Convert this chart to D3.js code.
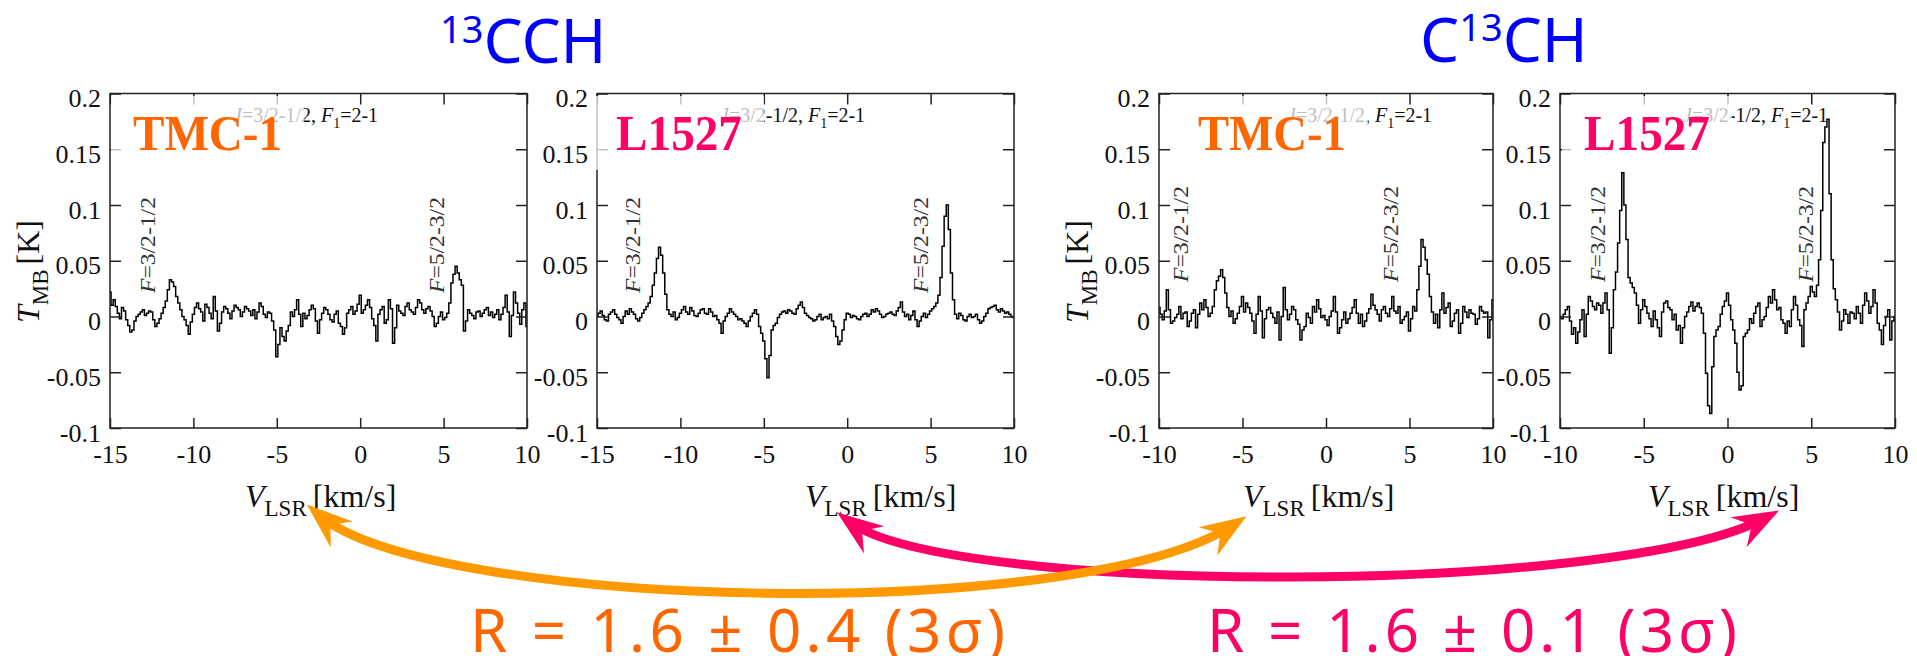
<!DOCTYPE html>
<html lang="en">
<head>
<meta charset="utf-8">
<title>13CCH / C13CH in TMC-1 and L1527</title>
<script src="https://d3js.org/d3.v7.min.js"></script>
<style>
  body { margin: 0; background: #fff; }
  svg { display: block; }
</style>
</head>
<body>
<svg width="1917" height="656"></svg>
<script>
var svg = d3.select("svg");

// channel width of the spectra, km/s
var dv = 0.125;

// T_MB in mK, one value per channel
// 13CCH  TMC-1, from -15 km/s
var cch13Tmc1 = [22,10,15,9,3,-2,8,5,-3,-8,
  -14,-12,-4,0,2,4,6,1,3,5,
  4,-3,-9,-6,-2,3,8,14,24,33,
  31,27,18,12,6,0,-3,-8,-16,-5,
  2,8,12,7,4,-4,11,8,3,-2,
  18,5,-13,-6,4,9,7,3,-2,5,
  10,8,6,0,4,9,7,5,1,6,
  -2,4,12,9,2,-1,4,3,-4,-12,
  -36,-25,-10,-18,-22,-13,-8,4,0,6,
  15,2,-9,3,-2,1,6,10,7,-4,
  -15,-3,3,8,6,2,-3,-5,2,5,
  -6,-9,-16,-10,3,6,9,2,5,11,
  19,3,6,10,15,8,-2,-8,-22,2,
  6,9,-6,-3,15,7,-24,-10,10,5,
  3,1,9,12,6,4,2,8,15,12,
  6,3,7,9,5,0,-9,-6,0,4,
  -3,-1,3,12,30,38,45,39,33,28,
  -13,-4,6,3,1,-2,4,5,0,3,
  6,8,1,4,-1,2,6,-3,2,8,
  19,4,-18,1,22,12,3,-7,6,12,
  -9];
// 13CCH  L1527, from -15 km/s
var cch13L1527 = [0,3,5,1,-3,-4,2,4,6,2,
  -1,-3,-6,0,5,2,7,4,2,-2,
  -4,-1,3,6,9,12,18,28,39,52,
  62,55,39,20,6,2,0,4,-3,-1,
  3,6,9,4,2,8,5,1,0,3,
  6,7,3,2,7,4,0,1,-3,-6,
  -15,-4,0,3,7,4,2,0,-3,-2,
  -4,-6,-9,-4,0,3,6,2,-9,-15,
  -22,-38,-55,-35,-12,-8,-6,-1,2,4,
  5,3,6,5,3,2,7,10,13,8,
  3,1,-1,-2,-4,-3,0,2,-3,-1,
  0,-2,2,-4,-9,-18,-25,-22,-12,-3,
  3,2,-1,1,0,-2,-3,0,2,3,
  0,2,6,4,7,5,2,-1,0,2,
  3,4,2,1,5,8,13,4,0,2,
  -3,1,5,-3,-9,-4,0,3,-1,2,
  5,7,9,12,19,35,63,90,100,78,
  39,15,2,-2,3,1,-3,-4,0,2,
  -1,0,2,-3,-6,-4,0,3,7,8,
  9,10,6,4,7,5,3,4,2,0,
  -1];
// C13CH  TMC-1, from -10 km/s
var c13chTmc1 = [8,2,-3,5,24,6,-6,-4,-1,2,
  9,-2,3,4,-9,-4,3,6,-10,2,
  12,6,15,8,0,3,9,24,32,36,
  42,35,21,8,0,5,-6,-2,3,9,
  18,4,12,8,3,-4,-15,2,18,5,
  -19,-2,6,8,3,-1,-6,4,-21,0,
  26,6,-3,2,9,6,-3,-7,-21,-12,
  -9,3,-1,-6,9,4,15,7,-1,1,
  -3,-8,0,5,18,4,-15,-10,-3,4,
  -6,-2,3,8,15,3,-6,2,-9,-4,
  3,7,20,10,6,2,-4,6,9,3,
  0,7,18,5,3,9,-6,-3,0,4,
  -13,-2,9,5,24,45,69,62,51,38,
  18,4,-6,2,-10,6,21,3,8,12,
  -9,-4,3,6,-15,-6,9,4,-1,6,
  3,2,-7,-2,9,5,3,4,-19,-3,
  15];
// C13CH  L1527, from -10 km/s
var c13chL1527 = [0,-2,2,6,9,-4,-16,-10,-24,-14,
  -3,6,-18,2,18,14,9,6,12,10,
  3,12,21,6,-33,-10,24,40,66,95,
  129,100,69,35,30,26,21,10,-6,6,
  15,9,3,-2,-9,5,-3,-10,-18,4,
  12,14,8,6,-3,2,-12,-8,-24,-10,
  0,4,9,13,5,9,12,8,3,-15,
  -51,-80,-87,-45,-18,-12,-9,2,9,14,
  21,10,-3,-12,-24,-50,-66,-62,-18,-15,
  -12,-2,-6,3,9,12,-9,-3,0,8,
  18,12,24,15,6,8,-3,-6,-15,-4,
  -9,6,18,10,-3,-8,-27,6,12,18,
  27,22,18,28,51,95,156,170,177,110,
  51,25,15,4,-12,-4,6,2,-6,4,
  3,-2,9,3,-6,10,21,14,3,9,
  24,12,-6,-12,-25,-8,0,6,-21,-4,
  0];

var spectra = [cch13Tmc1, cch13L1527, c13chTmc1, c13chL1527];
var vStart = [-15, -15, -10, -10];
var vRange = [[-15, 10], [-15, 10], [-10, 10], [-10, 10]];
var sources = ["TMC-1", "L1527", "TMC-1", "L1527"];
var xTicksWide = [-15, -10, -5, 0, 5, 10];
var xTicksNarrow = [-10, -5, 0, 5, 10];
var yTicks = [-0.1, -0.05, 0, 0.05, 0.1, 0.15, 0.2];
var hfs = ["3/2-1/2", "5/2-3/2"];
var ratios = ["R = 1.6 \u00b1 0.4 (3\u03c3)", "R = 1.6 \u00b1 0.1 (3\u03c3)"];

var orange = "#ff6600", pink = "#ff0066", amber = "#ff9900";
var serif = "'Liberation Serif', 'Times New Roman', serif";
var sans = "'Noto Sans', 'Open Sans', sans-serif";

// layout of the four boxes
var panels = [
  {left: 110, right: 527, nameX: 133, nameW: 149, fx: [155, 444], fy: 293, tlabel: true, vx: 245, col: orange},
  {left: 597, right: 1014, nameX: 616, nameW: 126, fx: [640, 928], fy: 293, tlabel: false, vx: 805, col: pink},
  {left: 1159, right: 1493, nameX: 1198, nameW: 148, fx: [1188, 1398], fy: 282, tlabel: true, vx: 1243, col: orange},
  {left: 1560, right: 1895, nameX: 1584, nameW: 126, fx: [1605, 1813], fy: 282, tlabel: false, vx: 1648, col: pink}
];
var yTop = 93.5, yBot = 428;

var y = d3.scaleLinear().domain([-0.1, 0.2]).range([yBot, yTop]);

var defs = svg.append("defs");

panels.forEach(function(p, k) {
  var x = d3.scaleLinear().domain(vRange[k]).range([p.left, p.right]);
  var xt = vRange[k][0] == -15 ? xTicksWide : xTicksNarrow;
  var g = svg.append("g");

  defs.append("clipPath").attr("id", "clip" + k)
    .append("rect").attr("x", p.left).attr("y", yTop)
    .attr("width", p.right - p.left).attr("height", yBot - yTop);

  // spectrum
  var line = d3.line()
    .x(function(d, i) { return x(vStart[k] + i * dv); })
    .y(function(d) { return y(d / 1000); })
    .curve(d3.curveStep);
  g.append("path")
    .datum(spectra[k])
    .attr("clip-path", "url(#clip" + k + ")")
    .attr("fill", "none")
    .attr("stroke", "#000")
    .attr("stroke-width", 1.5)
    .attr("d", line);

  // axes, ticks pointing inward
  var gb = g.append("g").attr("transform", "translate(0," + yBot + ")")
    .call(d3.axisBottom(x).tickValues(xt).tickSizeInner(-10).tickSizeOuter(0)
      .tickPadding(17).tickFormat(function(d) { return String(d); }));
  var gt = g.append("g").attr("transform", "translate(0," + yTop + ")")
    .call(d3.axisTop(x).tickValues(xt).tickSizeInner(-11).tickSizeOuter(0));
  var gl = g.append("g").attr("transform", "translate(" + p.left + ",0)")
    .call(d3.axisLeft(y).tickValues(yTicks).tickSizeInner(-11).tickSizeOuter(0)
      .tickPadding(9).tickFormat(function(d) { return String(d); }));
  var gr = g.append("g").attr("transform", "translate(" + p.right + ",0)")
    .call(d3.axisRight(y).tickValues(yTicks).tickSizeInner(-11).tickSizeOuter(0));
  gt.selectAll("text").remove();
  gr.selectAll("text").remove();
  [gb, gt, gl, gr].forEach(function(a) {
    a.attr("color", "#222").attr("font-family", serif).attr("font-size", 26);
    a.select(".domain").remove();
    a.selectAll("line").attr("stroke-width", 1.5);
  });
  gl.selectAll("text").attr("dy", "0.5em").attr("fill", "#111");
  gb.selectAll("text").attr("fill", "#111");

  g.append("rect")
    .attr("x", p.left).attr("y", yTop)
    .attr("width", p.right - p.left).attr("height", yBot - yTop)
    .attr("fill", "none").attr("stroke", "#222").attr("stroke-width", 1.5);

  // transition label
  var jt = g.append("text").attr("x", p.left + (k == 2 ? 128 : 123)).attr("y", 122)
    .attr("font-family", serif).attr("font-size", 20).attr("fill", "#111");
  jt.append("tspan").attr("font-style", "italic").text("J");
  jt.append("tspan").text("=3/2-1/2, ");
  jt.append("tspan").attr("font-style", "italic").text("F");
  jt.append("tspan").attr("font-size", 14).attr("dy", 6).text("1");
  jt.append("tspan").attr("dy", -6).text("=2-1");

  // hyperfine component labels
  hfs.forEach(function(h, j) {
    var t = g.append("text")
      .attr("transform", "translate(" + p.fx[j] + "," + p.fy + ") rotate(-90)")
      .attr("font-family", serif).attr("font-size", 21).attr("fill", "#333")
      .attr("textLength", 96).attr("lengthAdjust", "spacingAndGlyphs");
    t.append("tspan").attr("font-style", "italic").text("F");
    t.append("tspan").text("=" + h);
  });

  // veil behind the source name
  g.append("rect")
    .attr("x", p.nameX - 22).attr("y", 96)
    .attr("width", p.nameW + 44).attr("height", 74)
    .attr("fill", "#fff").attr("opacity", 0.72);
  g.append("text")
    .attr("x", p.nameX).attr("y", 150)
    .attr("font-family", serif).attr("font-weight", "bold").attr("font-size", 50)
    .attr("fill", p.col)
    .attr("textLength", p.nameW).attr("lengthAdjust", "spacingAndGlyphs")
    .text(sources[k]);

  // axis titles
  var vt = g.append("text").attr("x", p.vx).attr("y", 507)
    .attr("font-family", serif).attr("font-size", 32).attr("fill", "#111");
  vt.append("tspan").attr("font-style", "italic").text("V");
  vt.append("tspan").attr("font-size", 23).attr("dy", 9).text("LSR");
  vt.append("tspan").attr("dy", -9).attr("dx", 6).text("[km/s]");

  if (p.tlabel) {
    var tt = g.append("text")
      .attr("transform", "translate(" + (p.left - 71) + ",323) rotate(-90)")
      .attr("font-family", serif).attr("font-size", 32).attr("fill", "#111");
    tt.append("tspan").attr("font-style", "italic").text("T");
    tt.append("tspan").attr("font-size", 23).attr("dy", 9).text("MB");
    tt.append("tspan").attr("dy", -9).attr("dx", 5).text("[K]");
  }
});

// molecule titles
var t1 = svg.append("text").attr("x", 440).attr("y", 63)
  .attr("font-family", sans).attr("fill", "#0000ff");
t1.append("tspan").attr("font-size", 38).attr("dy", -20).text("13");
t1.append("tspan").attr("font-size", 62).attr("dy", 20).text("CCH");

var t2 = svg.append("text").attr("x", 1420).attr("y", 62)
  .attr("font-family", sans).attr("fill", "#0000ff");
t2.append("tspan").attr("font-size", 62).text("C");
t2.append("tspan").attr("font-size", 38).attr("dy", -21).text("13");
t2.append("tspan").attr("font-size", 62).attr("dy", 21).text("CH");

// double-headed arrows linking the same source
function head(id, col) {
  defs.append("marker").attr("id", id)
    .attr("viewBox", "-34 -22 54 44")
    .attr("markerWidth", 54).attr("markerHeight", 44)
    .attr("refX", 0).attr("refY", 0)
    .attr("markerUnits", "userSpaceOnUse")
    .attr("orient", "auto-start-reverse")
    .append("path").attr("d", "M16,0L-30,-17L-15,0L-30,17Z").attr("fill", col);
}
head("hp", pink);
head("ho", amber);

svg.append("path")
  .attr("d", "M850,522 C950,596 1620,596 1765,518")
  .attr("fill", "none").attr("stroke", pink).attr("stroke-width", 9)
  .attr("marker-start", "url(#hp)").attr("marker-end", "url(#hp)");
svg.append("path")
  .attr("d", "M319,515 C430,610 1080,625 1233,525")
  .attr("fill", "none").attr("stroke", amber).attr("stroke-width", 9)
  .attr("marker-start", "url(#ho)").attr("marker-end", "url(#ho)");

// isotopic ratios
svg.append("text").attr("x", 470).attr("y", 652)
  .attr("font-family", sans).attr("font-size", 60).attr("fill", orange)
  .attr("textLength", 535).attr("lengthAdjust", "spacing")
  .text(ratios[0]);
svg.append("text").attr("x", 1207).attr("y", 652)
  .attr("font-family", sans).attr("font-size", 60).attr("fill", pink)
  .attr("textLength", 530).attr("lengthAdjust", "spacing")
  .text(ratios[1]);
</script>
</body>
</html>
